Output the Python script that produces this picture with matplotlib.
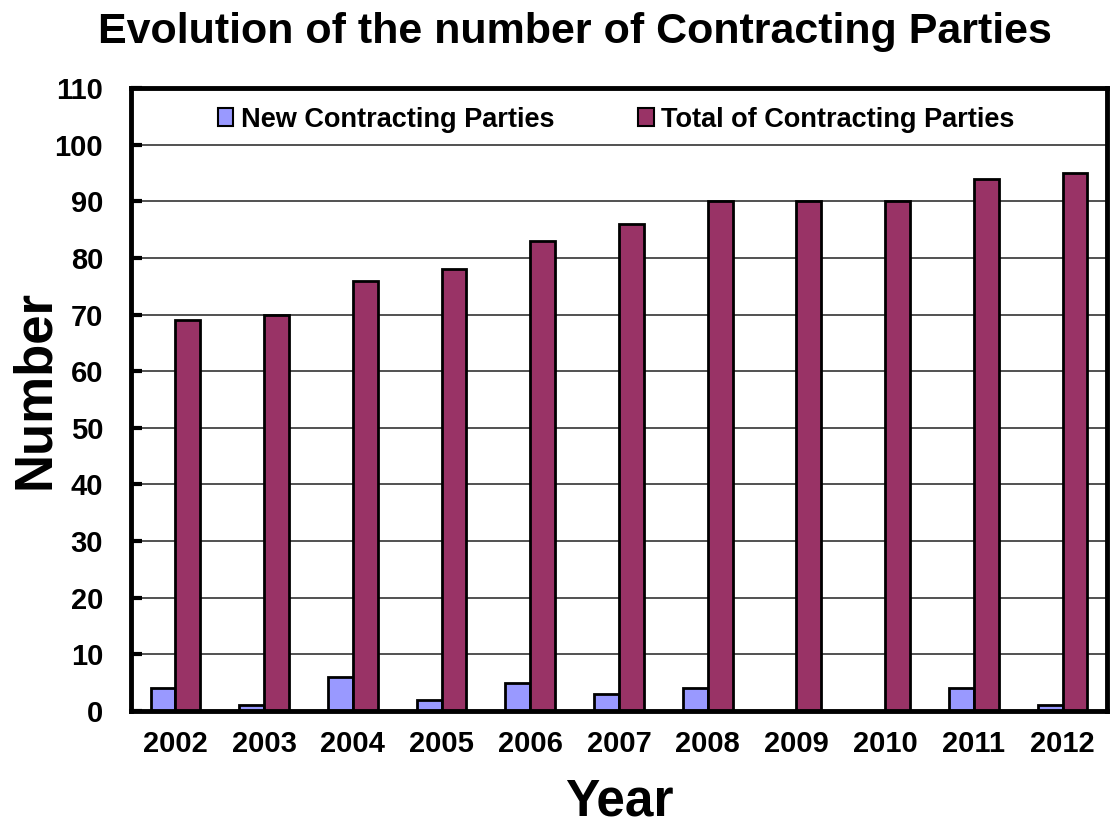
import matplotlib
matplotlib.use("Agg")
import matplotlib.pyplot as plt
import numpy as np

years = ["2002", "2003", "2004", "2005", "2006", "2007", "2008", "2009", "2010", "2011", "2012"]
new_parties = [4, 1, 6, 2, 5, 3, 4, 0, 0, 4, 1]
total_parties = [69, 70, 76, 78, 83, 86, 90, 90, 90, 94, 95]
yticks = list(range(0, 111, 10))

plt.rcParams['font.family'] = ['Liberation Sans', 'DejaVu Sans']
plt.rcParams['font.weight'] = 'bold'

W, H = 1113, 825
fig = plt.figure(figsize=(W / 100, H / 100), dpi=100)
ax = fig.add_axes([131 / W, 1 - 711 / H, (1107 - 131) / W, (711 - 88) / H])

x = np.arange(len(years))
w = 0.28
ax.bar(x - w / 2, new_parties, w, color='#9999ff', edgecolor='black', linewidth=2,
       label='New Contracting Parties', zorder=3)
ax.bar(x + w / 2, total_parties, w, color='#993366', edgecolor='black', linewidth=2,
       label='Total of Contracting Parties', zorder=3)

ax.set_xlim(-0.5, len(years) - 0.5)
ax.set_ylim(0, 110)
ax.set_yticks(yticks)
ax.set_xticks(x)
ax.set_xticklabels(years)
ax.yaxis.grid(True, color='#333333', linewidth=1.2, zorder=0)
ax.tick_params(axis='y', direction='in', length=8, width=3, labelsize=21, pad=20)
ax.tick_params(axis='x', length=0, labelsize=21, pad=14)
for s in ax.spines.values():
    s.set_linewidth(3.5)
    s.set_zorder(5)

ax.set_xlabel('Year', fontsize=37, fontweight='bold', labelpad=14)
fig.text(35 / W, 1 - 390 / H, 'Number', rotation=90, ha='center', va='center',
         fontsize=38, fontweight='bold')
fig.text(575 / W, 1 - 43 / H, 'Evolution of the number of Contracting Parties',
         ha='center', va='baseline', fontsize=31, fontweight='bold')

leg = ax.legend(loc='upper center', bbox_to_anchor=(0.497, 1.0), ncol=2, frameon=False,
                fontsize=19.5, handlelength=0.57, handleheight=0.65, handletextpad=0.27,
                columnspacing=3.1, borderaxespad=0.3)
for h in leg.legend_handles:
    h.set_linewidth(1.5)

fig.savefig('out.png', dpi=100, facecolor='white')
